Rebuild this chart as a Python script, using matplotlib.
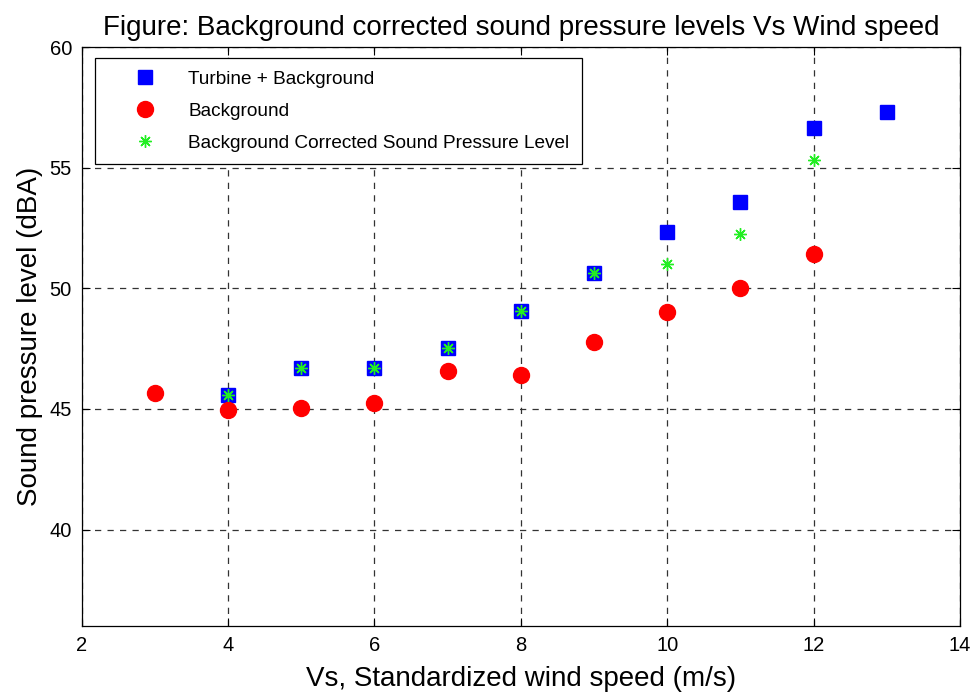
import numpy as np
import matplotlib
matplotlib.use("Agg")
import matplotlib.pyplot as plt

plt.rcParams['font.family'] = ['Liberation Sans', 'DejaVu Sans']

# wind speed (m/s)
ws_total = [4, 5, 6, 7, 8, 9, 10, 11, 12, 13]
spl_total = [45.58, 46.69, 46.69, 47.54, 49.08, 50.65, 52.34, 53.57, 56.67, 57.32]

ws_bg = [3, 4, 5, 6, 7, 8, 9, 10, 11, 12]
spl_bg = [45.68, 44.97, 45.04, 45.26, 46.58, 46.43, 47.77, 49.01, 50.01, 51.41]

ws_corr = [4, 5, 6, 7, 8, 9, 10, 11, 12]
spl_corr = [45.58, 46.69, 46.69, 47.54, 49.08, 50.65, 51.0, 52.24, 55.33]

xticks = [2, 4, 6, 8, 10, 12, 14]
yticks = [40, 45, 50, 55, 60]

fig = plt.figure(figsize=(9.75, 6.96), dpi=100)
ax = fig.add_axes([0.0838, 0.1006, 0.9008, 0.8314])

ax.plot(ws_total, spl_total, 's', color='#0000ff', markersize=10.5,
        markeredgecolor='#0000ff', label='Turbine + Background')
ax.plot(ws_bg, spl_bg, 'o', color='#ff0000', markersize=11.5,
        markeredgecolor='#ff0000', label='Background')
ax.plot(ws_corr, spl_corr, linestyle='none', marker=(8, 2, 0), color='#22ee22',
        markersize=9, markeredgewidth=1.0,
        label='Background Corrected Sound Pressure Level')

ax.set_xlim(2, 14)
ax.set_ylim(36, 60)
ax.set_xticks(xticks)
ax.set_yticks(yticks)
ax.tick_params(direction='in', top=True, right=True, labelsize=14.5, length=6,
               pad=7)
ax.grid(True, linestyle=(0, (5, 5)), color='#333333', linewidth=0.9)
for s in ax.spines.values():
    s.set_linewidth(0.9)

ax.set_xlabel('Vs, Standardized wind speed (m/s)', fontsize=20, labelpad=8)
ax.set_ylabel('Sound pressure level (dBA)', fontsize=20, labelpad=5)
ax.set_title('Figure: Background corrected sound pressure levels Vs Wind speed',
             fontsize=20, pad=9)

leg = ax.legend(loc='upper left', bbox_to_anchor=(0.015, 0.9815), fontsize=13.7,
                fancybox=False, edgecolor='black', framealpha=1,
                borderpad=0.65, handletextpad=0.25, labelspacing=0.78,
                handlelength=4, borderaxespad=0)
leg.get_frame().set_linewidth(0.9)

fig.savefig('out.png', dpi=100)
